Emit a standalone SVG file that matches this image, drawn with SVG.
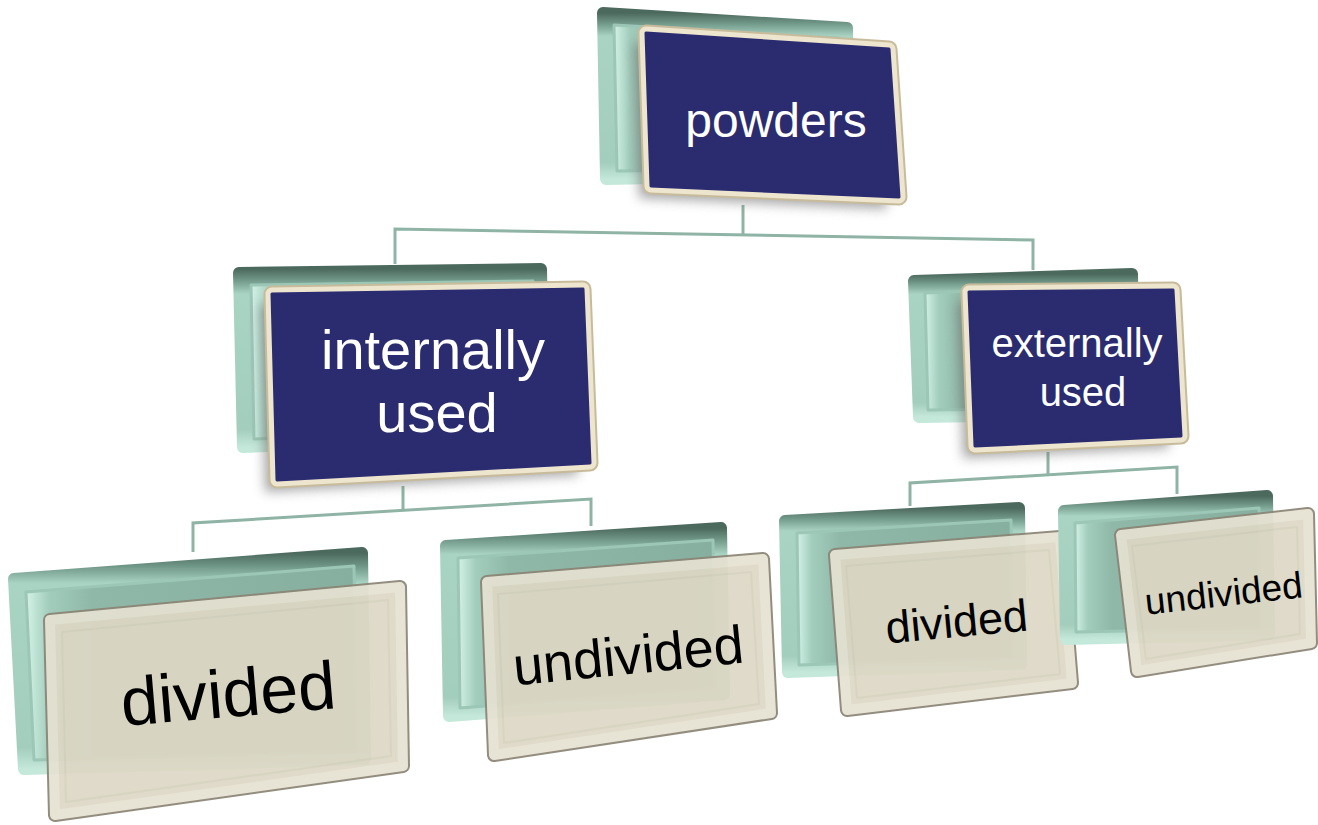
<svg xmlns="http://www.w3.org/2000/svg" width="1318" height="825" viewBox="0 0 1318 825">
<defs>
<linearGradient id="rim" x1="0" y1="0" x2="0" y2="1">
<stop offset="0" stop-color="#4c695d"/>
<stop offset="0.06" stop-color="#6f9687"/>
<stop offset="0.14" stop-color="#a9d3c3"/>
<stop offset="0.9" stop-color="#a3cdbd"/>
<stop offset="1" stop-color="#c4e8da"/>
</linearGradient>
<linearGradient id="face" x1="0" y1="0" x2="1" y2="0">
<stop offset="0" stop-color="#d2f3e7"/>
<stop offset="0.07" stop-color="#a2ccbc"/>
<stop offset="0.2" stop-color="#8fb8a8"/>
<stop offset="1" stop-color="#87af9f"/>
</linearGradient>
<filter id="blur" x="-20%" y="-20%" width="140%" height="140%">
<feGaussianBlur stdDeviation="6"/>
</filter>
<style>
.rim{fill:url(#rim);stroke:url(#rim);stroke-width:12;stroke-linejoin:round}
.face{fill:url(#face);stroke:#9cc6b6;stroke-width:3;stroke-linejoin:round}
.shadow{fill:#6e6e6e;opacity:0.6;filter:url(#blur)}
.cream1{fill:#c7bb9b;stroke:#c7bb9b;stroke-width:17;stroke-linejoin:round}
.cream2{fill:#ede5cd;stroke:#ede5cd;stroke-width:13;stroke-linejoin:round}
.navy{fill:#2b2b70;stroke:#2b2b70;stroke-width:3;stroke-linejoin:round}
.bedge{fill:#8b8576;stroke:#8b8576;stroke-width:14;stroke-linejoin:round}
.bfill{fill:#ddd8c5;stroke:#e6e2d2;stroke-width:10;stroke-linejoin:round}
.bhl{fill:none;stroke:#d3cebb;stroke-width:2;stroke-linejoin:round;opacity:0.7}
.wt{font-family:"Liberation Sans",Arial,sans-serif;fill:#ffffff;text-anchor:middle}
.bt{font-family:"Liberation Sans",Arial,sans-serif;fill:#000000;text-anchor:middle}
.conn{fill:none;stroke:#8fb3a5;stroke-width:3;stroke-linejoin:miter}
</style>
</defs>
<rect width="1318" height="825" fill="#ffffff"/>

<g id="connectors">
<path class="conn" d="M743,205 V234"/>
<path class="conn" d="M395,264 V229 L1033,240 V270"/>
<path class="conn" d="M403,486 V511"/>
<path class="conn" d="M193,552 V523 L591,499 V526"/>
<path class="conn" d="M1048,452 V474"/>
<path class="conn" d="M910,506 V483 L1177,467 V494"/>
</g>

<g id="node-powders">
<polygon class="rim" points="603,13 847,28 849,174 606,179"/>
<polygon class="face" points="614,25 839,38 841,168 617,171"/>
<polygon class="shadow" points="634,43 877,59 887,209 639,198"/>
<polygon class="cream1" points="646,33 889,49 899,197 651,186"/>
<polygon class="cream2" points="646,33 889,49 899,197 651,186"/>
<polygon class="navy" points="646,33 889,49 899,197 651,186"/>
<text class="wt" x="776" y="137" font-size="48">powders</text>
</g>

<g id="node-internally">
<polygon class="rim" points="239,273 541,269 544,434 243,447"/>
<polygon class="face" points="251,285 533,281 536,428 254,439"/>
<polygon class="shadow" points="260,304 571,299 578,475 265,492"/>
<polygon class="cream1" points="272,294 583,289 590,463 277,480"/>
<polygon class="cream2" points="272,294 583,289 590,463 277,480"/>
<polygon class="navy" points="272,294 583,289 590,463 277,480"/>
<text class="wt" font-size="56"><tspan x="433" y="369">internally</tspan><tspan x="437" y="432">used</tspan></text>
</g>

<g id="node-externally">
<polygon class="rim" points="914,281 1132,274 1134,414 919,417"/>
<polygon class="face" points="925,293 1124,285 1126,408 928,410"/>
<polygon class="shadow" points="957,302 1161,300 1169,448 963,458"/>
<polygon class="cream1" points="969,292 1173,290 1181,436 975,446"/>
<polygon class="cream2" points="969,292 1173,290 1181,436 975,446"/>
<polygon class="navy" points="969,292 1173,290 1181,436 975,446"/>
<text class="wt" font-size="40"><tspan x="1077" y="357">externally</tspan><tspan x="1083" y="406">used</tspan></text>
</g>

<g id="node-int-divided">
<polygon class="rim" points="14,579 362,553 365,759 24,769"/>
<polygon class="face" points="26,592 354,566 357,752 34,760"/>
<g opacity="0.93">
<polygon class="bedge" points="50,620 400,587 403,766 55,815"/>
<polygon class="bfill" points="50,620 400,587 403,766 55,815"/>
<polygon class="bhl" points="62,632 388,600 391,756 66,802"/>
</g>
<text class="bt" x="230" y="717" font-size="68" transform="rotate(-4.8 230 717)">divided</text>
</g>

<g id="node-int-undivided">
<polygon class="rim" points="446,546 721,528 724,694 449,716"/>
<polygon class="face" points="458,558 713,540 716,688 460,708"/>
<g opacity="0.93">
<polygon class="bedge" points="487,582 763,559 771,713 494,755"/>
<polygon class="bfill" points="487,582 763,559 771,713 494,755"/>
<polygon class="bhl" points="498,594 751,572 759,704 504,743"/>
</g>
<text class="bt" x="630" y="674" font-size="54" transform="rotate(-5.7 630 674)">undivided</text>
</g>

<g id="node-ext-divided">
<polygon class="rim" points="785,521 1019,508 1021,664 788,672"/>
<polygon class="face" points="797,533 1011,520 1013,658 799,665"/>
<g opacity="0.93">
<polygon class="bedge" points="835,555 1060,537 1072,683 847,710"/>
<polygon class="bfill" points="835,555 1060,537 1072,683 847,710"/>
<polygon class="bhl" points="846,566 1049,550 1060,674 857,698"/>
</g>
<text class="bt" x="958" y="637" font-size="45" transform="rotate(-5.3 958 637)">divided</text>
</g>

<g id="node-ext-undivided">
<polygon class="rim" points="1064,511 1267,496 1269,634 1066,639"/>
<polygon class="face" points="1075,523 1259,508 1261,628 1076,632"/>
<g opacity="0.93">
<polygon class="bedge" points="1121,535 1308,514 1311,643 1137,671"/>
<polygon class="bfill" points="1121,535 1308,514 1311,643 1137,671"/>
<polygon class="bhl" points="1132,546 1297,527 1300,634 1146,659"/>
</g>
<text class="bt" x="1225" y="606" font-size="37" transform="rotate(-6.3 1225 606)">undivided</text>
</g>
</svg>
